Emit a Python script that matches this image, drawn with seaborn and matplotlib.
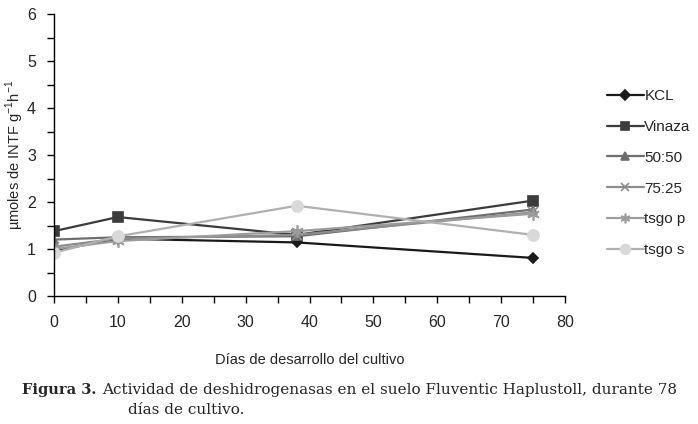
import matplotlib
matplotlib.use("Agg")
import matplotlib.pyplot as plt
import seaborn as sns
import pandas as pd
from matplotlib.ticker import MultipleLocator

# days of culture
dias = [0, 10, 38, 75]

# dehydrogenase activity per treatment
kcl = [0.96, 1.22, 1.14, 0.81]
vinaza = [1.38, 1.68, 1.30, 2.03]
t50_50 = [1.20, 1.25, 1.27, 1.84]
t75_25 = [1.05, 1.22, 1.30, 1.78]
tsgo_p = [1.00, 1.17, 1.38, 1.75]
tsgo_s = [0.92, 1.27, 1.92, 1.30]

series = ["KCL", "Vinaza", "50:50", "75:25", "tsgo p", "tsgo s"]
values = [kcl, vinaza, t50_50, t75_25, tsgo_p, tsgo_s]

rows = []
for name, vals in zip(series, values):
    for d, v in zip(dias, vals):
        rows.append({"dia": d, "valor": v, "serie": name})
df = pd.DataFrame(rows)

sns.set_style("ticks")
plt.rcParams["font.family"] = ["Liberation Sans", "DejaVu Sans"]

line_colors = ["#1a1a1a", "#3c3c3c", "#6e6e6e", "#8c8c8c", "#9c9c9c", "#b0b0b0"]
mark_colors = ["#1a1a1a", "#3c3c3c", "#6e6e6e", "#8c8c8c", "#9c9c9c", "#d9d9d9"]
markers = ["D", "s", "^", "x", (6, 2, 0), "o"]
msizes = [5, 7, 6, 7, 9, 8]

fig = plt.figure(figsize=(6.98, 4.24), dpi=100)
ax = fig.add_axes([54 / 698, 1 - 296 / 424, 511 / 698, 282 / 424])

for i, name in enumerate(series):
    sub = df[df["serie"] == name]
    sns.lineplot(data=sub, x="dia", y="valor", ax=ax, color=line_colors[i],
                 marker=markers[i], markersize=msizes[i],
                 markerfacecolor=mark_colors[i], markeredgecolor=mark_colors[i],
                 markeredgewidth=1.2, linewidth=1.6, label=name)

ax.set_xlim(0, 80)
ax.set_ylim(0, 6)
ax.xaxis.set_major_locator(MultipleLocator(10))
ax.xaxis.set_minor_locator(MultipleLocator(5))
ax.yaxis.set_major_locator(MultipleLocator(1))
ax.yaxis.set_minor_locator(MultipleLocator(0.5))
ax.tick_params(axis="both", which="both", direction="out", length=5, width=1,
               color="black", labelsize=11.5)
ax.tick_params(axis="x", pad=9)
ax.tick_params(axis="y", pad=8)
for side in ["top", "right"]:
    ax.spines[side].set_visible(False)
for side in ["left", "bottom"]:
    ax.spines[side].set_color("black")
    ax.spines[side].set_linewidth(1)

ax.set_xlabel("Días de desarrollo del cultivo", fontsize=10.5, labelpad=16)
ax.set_ylabel(r"µmoles de INTF g$^{\mathregular{-1}}$h$^{\mathregular{-1}}$",
              fontsize=10.5, labelpad=1)

leg = ax.legend(loc="upper left", bbox_to_anchor=(1.07, 0.755), frameon=False,
                fontsize=11, handlelength=2.4, handletextpad=0.05,
                labelspacing=1.1, borderaxespad=0)
for h, ms in zip(leg.get_lines(), [5, 6, 6, 6, 7, 7]):
    h.set_markersize(ms)

fig.text(22 / 698, 1 - 390 / 424, "Figura 3.", fontsize=10.5, fontweight="bold",
         family="DejaVu Serif", va="center")
fig.text(102 / 698, 1 - 390 / 424,
         "Actividad de deshidrogenasas en el suelo Fluventic Haplustoll, durante 78",
         fontsize=11, family="DejaVu Serif", va="center")
fig.text(128 / 698, 1 - 410 / 424, "días de cultivo.", fontsize=11,
         family="DejaVu Serif", va="center")

fig.savefig("out.png", dpi=100)
